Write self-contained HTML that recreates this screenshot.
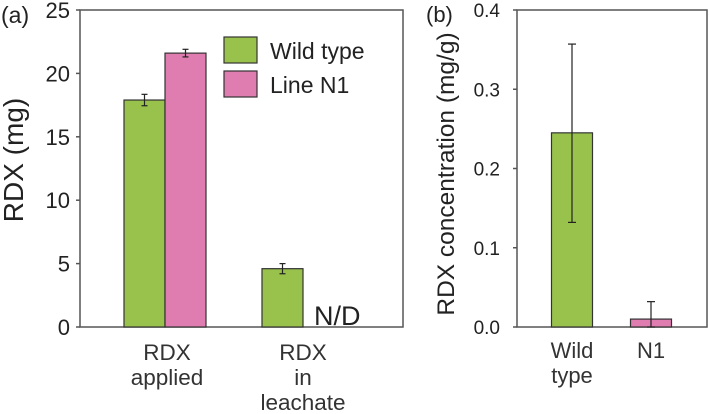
<!DOCTYPE html>
<html><head><meta charset="utf-8"><style>
body{margin:0;background:#fff;}
svg{display:block;font-family:"Liberation Sans",sans-serif;}
</style></head><body>
<svg id="c" width="709" height="414" viewBox="0 0 709 414">
<g id="pa"></g>
<g id="pb"></g>
</svg>
<script>
const groupsA=["RDX applied","RDX in leachate"];
const wtA=[17.9,4.6];
const wtErrA=[0.45,0.4];
const n1A=[21.6,null];
const n1ErrA=[0.3,null];
const ticksA=[0,5,10,15,20,25];
const catsB=["Wild type","N1"];
const valsB=[0.245,0.01];
const errLoB=[0.132,0];
const errHiB=[0.357,0.032];
const ticksB=[0,0.1,0.2,0.3,0.4];
const GREEN="#99c24d",PINK="#e07db0",AX="#555";
const NS="http://www.w3.org/2000/svg";
function mk(p,t,a,txt){const e=document.createElementNS(NS,t);for(const k in a)e.setAttribute(k,a[k]);if(txt!=null)e.textContent=txt;p.appendChild(e);return e;}
// Panel A
const pa=document.getElementById('pa');
const yA=v=>327-v/25*317;
mk(pa,'rect',{x:80,y:10,width:323,height:317,fill:'none',stroke:AX,'stroke-width':1.5});
ticksA.forEach(t=>{
 const l=mk(pa,'line',{x1:76,x2:80,y1:yA(t),y2:yA(t),stroke:AX,'stroke-width':1.5});
 
 const tx=mk(pa,'text',{x:70,y:yA(t)+8,'text-anchor':'end','font-size':22,fill:'#222'},String(t));
 
});
const cxA=[165,303];
function bar(p,x,w,v,y,fill,name){const r=mk(p,'rect',{x:x,y:y(v),width:w,height:y(0)-y(v),fill:fill,stroke:'#333','stroke-width':1.2});}
function err(p,x,lo,hi,y,cap,name){const g=mk(p,'g',{stroke:'#222','stroke-width':1.2});mk(g,'line',{x1:x,x2:x,y1:y(lo),y2:y(hi)});mk(g,'line',{x1:x-cap,x2:x+cap,y1:y(lo),y2:y(lo)});mk(g,'line',{x1:x-cap,x2:x+cap,y1:y(hi),y2:y(hi)});}
groupsA.forEach((g,i)=>{
 const c=cxA[i];
 bar(pa,c-41,41,wtA[i],yA,GREEN,'bar-wild-type-'+i);
 err(pa,c-20.5,wtA[i]-wtErrA[i],wtA[i]+wtErrA[i],yA,3,'error-bar-wild-type-'+i);
 if(n1A[i]!=null){bar(pa,c,41,n1A[i],yA,PINK,'bar-line-n1-'+i);err(pa,c+20.5,n1A[i]-n1ErrA[i],n1A[i]+n1ErrA[i],yA,3,'error-bar-line-n1-'+i);}
 else{const t=mk(pa,'text',{x:c+11,y:325,'font-size':27,fill:'#222'},'N/D');}
 const words=g.split(' ');
 words.forEach((w,j)=>{const t=mk(pa,'text',{x:c+(i==0?2:0),y:360+j*25,'text-anchor':'middle','font-size':22.5,fill:'#333'},w);});
});
let t=mk(pa,'text',{x:0,y:0,transform:'translate(23,160) rotate(-90)','text-anchor':'middle','font-size':28,fill:'#222'},'RDX (mg)');

t=mk(pa,'text',{x:1,y:23,'font-size':23,fill:'#222'},'(a)');

[['Wild type',GREEN,37],['Line N1',PINK,71]].forEach(([n,f,y])=>{
 const g=mk(pa,'g',{});
 mk(g,'rect',{x:224,y:y,width:33,height:26,fill:f,stroke:'#333','stroke-width':1.2});
 mk(g,'text',{x:270,y:y+22,'font-size':23,fill:'#222'},n);
});
// Panel B
const pb=document.getElementById('pb');
const yB=v=>327-v/0.4*317;
mk(pb,'rect',{x:517,y:10,width:190,height:317,fill:'none',stroke:AX,'stroke-width':1.5});
ticksB.forEach(v=>{
 const l=mk(pb,'line',{x1:513,x2:517,y1:yB(v),y2:yB(v),stroke:AX,'stroke-width':1.5});
 
 const tx=mk(pb,'text',{x:500,y:yB(v)+7,'text-anchor':'end','font-size':19,fill:'#222'},v.toFixed(1));
 
});
const cxB=[572,651];
catsB.forEach((c,i)=>{
 bar(pb,cxB[i]-20.5,41,valsB[i],yB,i==0?GREEN:PINK,'bar-'+(i==0?'wild-type':'n1'));
 err(pb,cxB[i],errLoB[i],errHiB[i],yB,4,'error-bar-'+(i==0?'wild-type':'n1'));
 c.split(' ').forEach((w,j)=>{const tx=mk(pb,'text',{x:cxB[i],y:358+j*25,'text-anchor':'middle','font-size':22,fill:'#333'},w);});
});
t=mk(pb,'text',{x:0,y:0,transform:'translate(454,174) rotate(-90)','text-anchor':'middle','font-size':24.5,fill:'#222'},'RDX concentration (mg/g)');

t=mk(pb,'text',{x:426,y:22,'font-size':22,fill:'#222'},'(b)');

</script>
</body></html>
